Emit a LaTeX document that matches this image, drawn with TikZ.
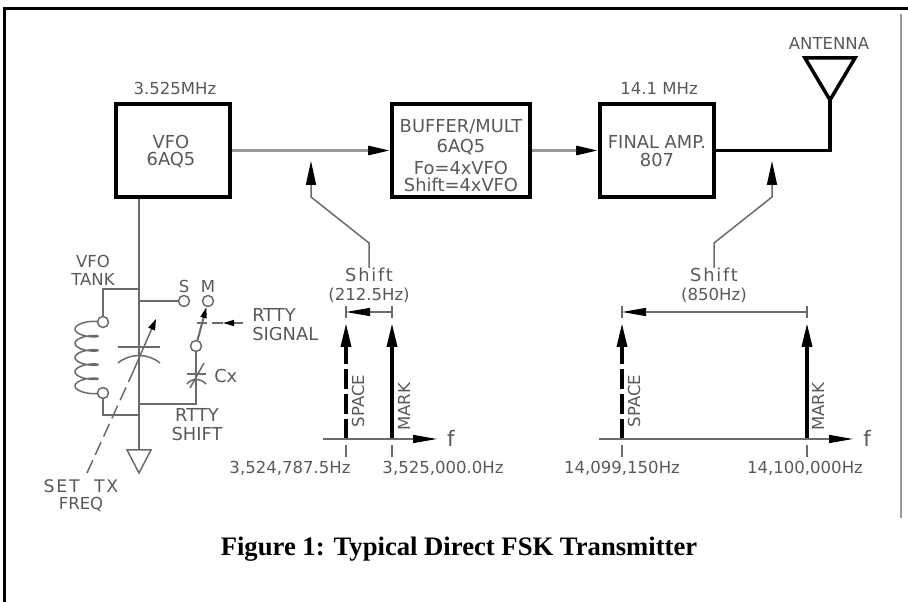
\documentclass[tikz,border=0pt]{standalone}
\usepackage{fontspec}
\setmainfont{Liberation Serif}
\newfontfamily\cadfont{DejaVu Sans}
\newfontfamily\cadwide[LetterSpace=10]{DejaVu Sans}
\usetikzlibrary{arrows.meta}
\newlength{\du}
\setlength{\du}{0.75pt}
\definecolor{wirecolor}{rgb}{0.420000, 0.420000, 0.420000}
\definecolor{feedcolor}{rgb}{0.600000, 0.600000, 0.600000}
\definecolor{labelcolor}{rgb}{0.350000, 0.350000, 0.350000}
\tikzset{
  stagebox/.style={draw=black, line width=4\du, fill=white, minimum width=114\du, minimum height=93\du, inner sep=0pt},
  cadlabel/.style={font=\cadfont\fontsize{13.4}{15}\selectfont, text=labelcolor, inner sep=0pt, align=center},
  smallcad/.style={cadlabel, font=\cadfont\fontsize{12.4}{14}\selectfont},
  widecad/.style={cadlabel, font=\cadwide\fontsize{13.4}{15}\selectfont},
  freqname/.style={cadlabel, font=\cadfont\fontsize{16}{17}\selectfont},
  terminal/.style={circle, draw=wirecolor, line width=1.5\du, fill=white, minimum size=11\du, inner sep=0pt},
  wire/.style={draw=wirecolor, line width=1.5\du},
  feed/.style={draw=feedcolor, line width=3\du, -{Triangle[length=16.5pt,width=6.75pt,color=black]}},
  output/.style={draw=black, line width=3.5\du},
  pointer/.style={draw=wirecolor, line width=1.5\du, -{Triangle[length=18pt,width=7.5pt,color=black]}},
  signal/.style={draw=black, line width=3.5\du, -{Triangle[length=18pt,width=7.5pt]}},
  axisline/.style={draw=wirecolor, line width=1.5\du, -{Triangle[length=18pt,width=6pt,color=black]}},
  dimline/.style={draw=wirecolor, line width=1.2\du, -{Triangle[length=18pt,width=6pt,color=black]}},
  freqtick/.style={draw=wirecolor, line width=1.2\du},
}
\begin{document}
\begin{tikzpicture}
\pgftransformxscale{1.000000}
\pgftransformyscale{-1.000000}
\useasboundingbox (0.000000\du,0.000000\du) rectangle (908.000000\du,602.000000\du);
% page rules
\coordinate (ruleTL) at (4.500000\du,8.500000\du);
\coordinate (ruleTR) at (908.000000\du,8.500000\du);
\coordinate (ruleBL) at (4.500000\du,602.000000\du);
\coordinate (sideT) at (901.000000\du,14.000000\du);
\coordinate (sideB) at (901.000000\du,518.000000\du);
\draw[line width=3\du] (ruleBL)--(ruleTL)--(ruleTR);
\draw[draw=feedcolor, line width=1.5\du] (sideT)--(sideB);
% stages
\node[stagebox] (vfo) at (173.000000\du,150.500000\du){};
\node[stagebox, minimum width=138\du] (buffer) at (461.000000\du,150.500000\du){};
\node[stagebox] (final) at (657.000000\du,150.500000\du){};
\node[smallcad] (vfoFreq) at (175.000000\du,88.000000\du){3.525MHz};
\node[smallcad] (finalFreq) at (659.000000\du,88.000000\du){14.1 MHz};
\node[cadlabel] (vfoName) at (171.000000\du,142.000000\du){VFO};
\node[cadlabel] (vfoTube) at (171.000000\du,160.000000\du){6AQ5};
\node[cadlabel] (bufName) at (461.000000\du,127.000000\du){BUFFER/MULT};
\node[cadlabel] (bufTube) at (461.000000\du,147.000000\du){6AQ5};
\node[cadlabel] (bufFo) at (461.000000\du,168.000000\du){Fo=4xVFO};
\node[cadlabel] (bufShift) at (461.000000\du,185.000000\du){Shift=4xVFO};
\node[cadlabel] (finalName) at (657.000000\du,142.000000\du){FINAL AMP.};
\node[cadlabel] (finalTube) at (657.000000\du,160.000000\du){807};
\draw[feed] (vfo.east)--(buffer.west);
\draw[feed] (buffer.east)--(final.west);
% antenna
\coordinate (antTip) at (830.000000\du,100.000000\du);
\coordinate (antL) at (805.000000\du,58.000000\du);
\coordinate (antR) at (855.000000\du,58.000000\du);
\coordinate (antCorner) at (830.000000\du,150.500000\du);
\draw[output] (final.east)--(antCorner)--(antTip);
\draw[output, line join=miter] (antTip)--(antL)--(antR)--cycle;
\node[smallcad] (antName) at (829.000000\du,43.000000\du){ANTENNA};
% shift pointers
\node[widecad] (shiftL) at (369.000000\du,275.000000\du){Shift};
\node[smallcad] (shiftLval) at (369.000000\du,295.000000\du){(212.5Hz)};
\coordinate (ptrLa) at (369.000000\du,243.000000\du);
\coordinate (ptrLb) at (311.000000\du,197.000000\du);
\coordinate (ptrLtip) at (311.000000\du,161.000000\du);
\draw[pointer] (shiftL.north)--(ptrLa)--(ptrLb)--(ptrLtip);
\node[widecad] (shiftR) at (714.000000\du,275.000000\du){Shift};
\node[smallcad] (shiftRval) at (714.000000\du,295.000000\du){(850Hz)};
\coordinate (ptrRa) at (714.000000\du,243.000000\du);
\coordinate (ptrRb) at (772.000000\du,197.000000\du);
\coordinate (ptrRtip) at (772.000000\du,161.000000\du);
\draw[pointer] (shiftR.north)--(ptrRa)--(ptrRb)--(ptrRtip);
% tank circuit
\coordinate (tankTop) at (139.000000\du,289.000000\du);
\coordinate (tankTopL) at (103.000000\du,289.000000\du);
\coordinate (tankS) at (139.000000\du,301.000000\du);
\coordinate (tankCx) at (139.000000\du,404.000000\du);
\coordinate (tankBot) at (139.000000\du,415.000000\du);
\coordinate (tankBotL) at (103.000000\du,415.000000\du);
\coordinate (gndTop) at (139.000000\du,450.000000\du);
\coordinate (gndL) at (127.000000\du,450.000000\du);
\coordinate (gndR) at (151.000000\du,450.000000\du);
\coordinate (gndTip) at (139.000000\du,473.000000\du);
\node[terminal] (coilTop) at (103.000000\du,322.000000\du){};
\node[terminal] (coilBot) at (103.000000\du,393.000000\du){};
\node[terminal] (swS) at (184.000000\du,301.000000\du){};
\node[terminal] (swM) at (208.000000\du,301.000000\du){};
\node[terminal] (swC) at (196.000000\du,346.000000\du){};
\draw[wire] (vfo.south -| tankTop)--(gndTop);
\draw[wire] (tankTop)--(tankTopL)--(coilTop);
\draw[wire] (tankBot)--(tankBotL)--(coilBot);
\draw[wire] (tankS)--(swS);
\draw[wire] (gndL)--(gndR)--(gndTip)--cycle;
\draw[wire] (swC)--(196.000000\du,404.000000\du)--(tankCx);
% coil
\draw[wire, smooth, samples=121, domain=0:1800] plot ({(86.5+11.5*cos(\x))*\du},{(322+\x/1800*71-3.5*sin(\x))*\du});
% tuning capacitor
\draw[wire] (118.000000\du,347.000000\du)--(160.000000\du,347.000000\du);
\draw[wire] (118.000000\du,363.000000\du) .. controls (130.000000\du,353.000000\du) and (148.000000\du,353.000000\du) .. (160.000000\du,363.000000\du);
\coordinate (tuneTip) at (156.000000\du,319.000000\du);
\coordinate (tuneMid) at (133.000000\du,372.000000\du);
\coordinate (tuneEnd) at (87.000000\du,473.000000\du);
\node[smallcad, font=\cadwide\fontsize{13}{15}\selectfont] (setTx) at (81.000000\du,486.000000\du){SET\ \ TX};
\node[smallcad] (setFreq) at (81.000000\du,504.000000\du){FREQ};
\draw[wire, -{Triangle[length=8.25pt,width=5.25pt,color=black]}] (tuneMid)--(tuneTip);
\draw[wire, dash pattern=on 14\du off 6\du] (tuneEnd)--(tuneMid);
% switch
\draw[wire, line width=2\du, -{Triangle[length=8.25pt,width=4.5pt,color=black]}] (swC)--(swM);
\draw[wire] (197.000000\du,323.000000\du)--(207.000000\du,323.000000\du);
\coordinate (rttyEnd) at (243.000000\du,323.000000\du);
\coordinate (rttyMid) at (223.000000\du,323.000000\du);
\draw[wire, -{Triangle[length=8.25pt,width=4.5pt,color=black]}] (rttyEnd)--(rttyMid);
\draw[wire] (rttyMid)--(212.000000\du,323.000000\du);
% trim capacitor
\draw[wire] (187.000000\du,374.000000\du)--(206.000000\du,374.000000\du);
\draw[wire] (187.000000\du,384.000000\du) .. controls (191.000000\du,378.000000\du) and (201.000000\du,378.000000\du) .. (206.000000\du,384.000000\du);
\draw[wire] (190.000000\du,388.000000\du)--(204.000000\du,363.000000\du);
% circuit labels
\node[smallcad] (tankVfo) at (93.000000\du,261.000000\du){VFO};
\node[smallcad] (tankName) at (93.000000\du,279.000000\du){TANK};
\node[smallcad] (swSname) at (184.000000\du,286.000000\du){S};
\node[smallcad] (swMname) at (208.000000\du,286.000000\du){M};
\node[cadlabel, anchor=west] (rttySig) at (252.000000\du,315.000000\du){RTTY};
\node[cadlabel, anchor=west] (rttySigB) at (252.000000\du,334.000000\du){SIGNAL};
\node[cadlabel, anchor=west] (cxName) at (214.000000\du,376.000000\du){Cx};
\node[cadlabel] (rttyShift) at (197.000000\du,415.000000\du){RTTY};
\node[cadlabel] (rttyShiftB) at (197.000000\du,434.000000\du){SHIFT};
% left spectrum
\coordinate (axisLa) at (323.000000\du,439.000000\du);
\coordinate (axisLb) at (437.000000\du,439.000000\du);
\coordinate (spaceLb) at (346.000000\du,439.000000\du);
\coordinate (spaceLt) at (346.000000\du,323.000000\du);
\coordinate (markLb) at (392.000000\du,439.000000\du);
\coordinate (markLt) at (392.000000\du,323.000000\du);
\draw[signal, dash pattern=on 20\du off 5\du] (spaceLb)--(spaceLt);
\draw[signal] (markLb)--(markLt);
\draw[axisline] (axisLa)--(axisLb);
\draw[freqtick] (346.000000\du,445.000000\du)--(346.000000\du,457.000000\du);
\draw[freqtick] (392.000000\du,445.000000\du)--(392.000000\du,457.000000\du);
\draw[freqtick] (346.000000\du,306.000000\du)--(346.000000\du,318.000000\du);
\draw[freqtick] (392.000000\du,306.000000\du)--(392.000000\du,318.000000\du);
\draw[dimline] (392.000000\du,312.000000\du)--(346.000000\du,312.000000\du);
\node[smallcad, rotate=90] (spaceLname) at (358.000000\du,401.000000\du){SPACE};
\node[smallcad, rotate=90] (markLname) at (404.000000\du,407.000000\du){MARK};
\node[freqname] (fL) at (451.000000\du,438.000000\du){f};
\node[smallcad] (spaceLfreq) at (290.000000\du,468.000000\du){3,524,787.5Hz};
\node[smallcad] (markLfreq) at (443.000000\du,468.000000\du){3,525,000.0Hz};
% right spectrum
\coordinate (axisRa) at (599.000000\du,439.000000\du);
\coordinate (axisRb) at (853.000000\du,439.000000\du);
\coordinate (spaceRb) at (622.000000\du,439.000000\du);
\coordinate (spaceRt) at (622.000000\du,323.000000\du);
\coordinate (markRb) at (807.000000\du,439.000000\du);
\coordinate (markRt) at (807.000000\du,323.000000\du);
\draw[signal, dash pattern=on 20\du off 5\du] (spaceRb)--(spaceRt);
\draw[signal] (markRb)--(markRt);
\draw[axisline] (axisRa)--(axisRb);
\draw[freqtick] (622.000000\du,445.000000\du)--(622.000000\du,457.000000\du);
\draw[freqtick] (807.000000\du,445.000000\du)--(807.000000\du,457.000000\du);
\draw[freqtick] (622.000000\du,306.000000\du)--(622.000000\du,318.000000\du);
\draw[freqtick] (807.000000\du,306.000000\du)--(807.000000\du,318.000000\du);
\draw[dimline] (807.000000\du,312.000000\du)--(622.000000\du,312.000000\du);
\node[smallcad, rotate=90] (spaceRname) at (634.000000\du,401.000000\du){SPACE};
\node[smallcad, rotate=90] (markRname) at (818.000000\du,407.000000\du){MARK};
\node[freqname] (fR) at (867.000000\du,438.000000\du){f};
\node[smallcad] (spaceRfreq) at (622.000000\du,468.000000\du){14,099,150Hz};
\node[smallcad] (markRfreq) at (805.000000\du,468.000000\du){14,100,000Hz};
% caption
\node[font=\bfseries\fontsize{20}{24}\selectfont, inner sep=0pt] (caption) at (459.000000\du,549.000000\du){Figure 1: Typical Direct FSK Transmitter};
\end{tikzpicture}
\end{document}
